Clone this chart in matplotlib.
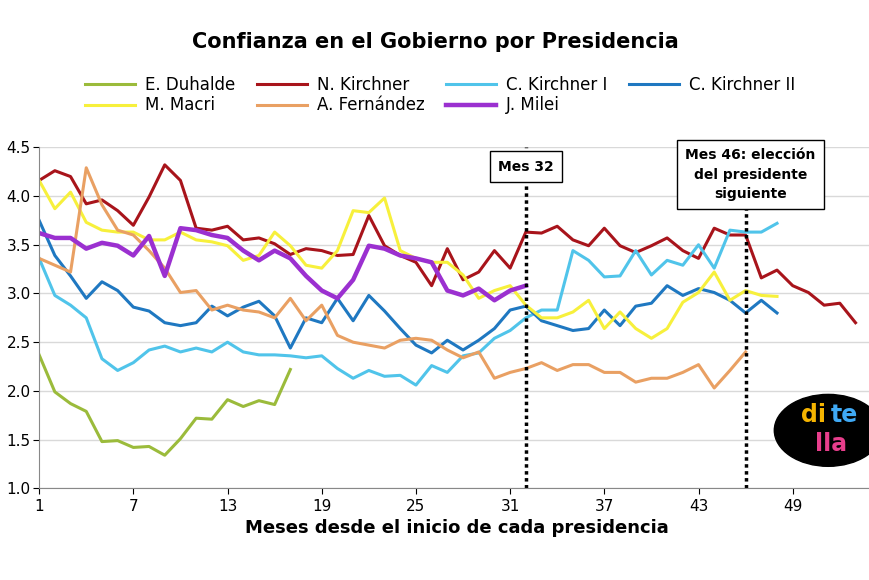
import matplotlib.pyplot as plt
from matplotlib.patches import Circle

duhalde = [1.37,0.99,0.87,0.79,0.48,0.49,0.42,0.43,0.34,0.51,0.72,0.71,0.91,0.84,0.90,0.86,1.22]
nk = [3.16,3.26,3.20,2.92,2.96,2.85,2.70,2.99,3.32,3.16,2.67,2.65,2.69,2.55,2.57,2.51,2.40,2.46,2.44,2.39,
      2.40,2.80,2.49,2.39,2.32,2.08,2.46,2.14,2.22,2.44,2.26,2.63,2.62,2.69,2.55,2.49,2.67,2.49,2.42,2.49,
      2.57,2.44,2.36,2.67,2.60,2.60,2.16,2.24,2.08,2.01,1.88,1.90,1.70]
ck1 = [2.36,1.98,1.88,1.75,1.33,1.21,1.29,1.42,1.46,1.40,1.44,1.40,1.50,1.40,1.37,1.37,1.36,1.34,1.36,1.23,
       1.13,1.21,1.15,1.16,1.06,1.26,1.19,1.36,1.39,1.54,1.62,1.75,1.83,1.83,2.44,2.34,2.17,2.18,2.44,2.19,
       2.34,2.29,2.50,2.26,2.65,2.63,2.63,2.72]
ck2 = [2.75,2.39,2.18,1.95,2.12,2.03,1.86,1.82,1.70,1.67,1.70,1.87,1.77,1.86,1.92,1.77,1.44,1.75,1.70,1.95,
       1.72,1.98,1.82,1.64,1.47,1.39,1.52,1.42,1.52,1.64,1.83,1.87,1.72,1.67,1.62,1.64,1.83,1.67,1.87,1.90,
       2.08,1.98,2.05,2.01,1.93,1.80,1.93,1.80]
macri = [3.16,2.87,3.04,2.73,2.65,2.63,2.63,2.55,2.55,2.63,2.55,2.53,2.49,2.34,2.39,2.63,2.49,2.29,2.26,2.44,
         2.85,2.83,2.98,2.44,2.36,2.32,2.32,2.19,1.95,2.03,2.08,1.88,1.75,1.75,1.81,1.93,1.64,1.81,1.64,1.54,
         1.64,1.91,2.01,2.22,1.93,2.03,1.98,1.97]
af = [2.36,2.29,2.22,3.29,2.91,2.65,2.60,2.44,2.26,2.01,2.03,1.83,1.88,1.83,1.81,1.75,1.95,1.72,1.88,1.57,
      1.50,1.47,1.44,1.52,1.54,1.52,1.42,1.34,1.40,1.13,1.19,1.23,1.29,1.21,1.27,1.27,1.19,1.19,1.09,1.13,
      1.13,1.19,1.27,1.03,1.21,1.40]
milei = [2.62,2.57,2.57,2.46,2.52,2.49,2.39,2.59,2.18,2.67,2.65,2.60,2.57,2.44,2.34,2.44,2.36,2.18,2.03,1.95,
         2.14,2.49,2.46,2.39,2.36,2.32,2.03,1.98,2.05,1.93,2.03,2.08]

series = [("E. Duhalde", duhalde, "#9bbb3b"), ("N. Kirchner", nk, "#a8141b"),
          ("C. Kirchner I", ck1, "#50c4ea"), ("C. Kirchner II", ck2, "#1f78c1"),
          ("M. Macri", macri, "#f7f03c"), ("A. Fernández", af, "#e9a063"),
          ("J. Milei", milei, "#9b30d0")]

fig = plt.figure(figsize=(8.7, 5.8), dpi=100)
ax = fig.add_axes([0.045, 0.158, 0.96, 0.588])
lines = {}
for name, vals, col in series:
    lw = 3.2 if name == "J. Milei" else 2.2
    lines[name], = ax.plot(range(1, len(vals) + 1), vals, color=col, lw=lw, label=name)

ax.set_xlim(1, 54.2)
ax.set_ylim(0, 3.5)
ax.set_xticks(range(1, 54, 6))
ax.set_yticks([i * 0.5 for i in range(8)])
ax.set_yticklabels([f"{i*0.5 + 1:.1f}" for i in range(8)])
ax.tick_params(labelsize=11, length=4)
ax.tick_params(axis="y", pad=2)
ax.grid(axis="y", color="#d9d9d9", lw=1)
ax.set_axisbelow(True)
for s in ["top", "right"]:
    ax.spines[s].set_visible(False)
ax.spines["left"].set_color("#888888")
ax.spines["bottom"].set_color("#888888")
ax.set_xlabel("Meses desde el inicio de cada presidencia", fontsize=13, fontweight="bold")

for m in [32, 46]:
    ax.axvline(m, color="black", ls=(0, (1, 1)), lw=2.5)
ax.text(32, 3.3, "Mes 32", ha="center", va="center", fontsize=10, fontweight="bold",
        bbox=dict(boxstyle="square,pad=0.6", fc="white", ec="black"))
ax.text(46.3, 3.22, "Mes 46: elección\ndel presidente\nsiguiente", ha="center", va="center",
        fontsize=10, fontweight="bold", linespacing=1.5,
        bbox=dict(boxstyle="square,pad=0.6", fc="white", ec="black"))

fig.suptitle("Confianza en el Gobierno por Presidencia", fontsize=15, fontweight="bold", y=0.945)
order = ["E. Duhalde", "M. Macri", "N. Kirchner", "A. Fernández", "C. Kirchner I", "J. Milei", "C. Kirchner II"]
fig.legend([lines[n] for n in order], order, loc="upper left", bbox_to_anchor=(0.08, 0.895), ncol=4,
           frameon=False, fontsize=12, handlelength=3.0, columnspacing=1.3, labelspacing=0.15,
           handletextpad=0.6)

# logo
fig.patches.append(Circle((0.952, 0.258), 0.062, transform=fig.transFigure, color="black"))
fig.text(0.935, 0.285, "di", color="#f5b400", fontsize=17, fontweight="bold", ha="center", va="center")
fig.text(0.97, 0.285, "te", color="#3fa9f5", fontsize=17, fontweight="bold", ha="center", va="center")
fig.text(0.955, 0.235, "lla", color="#e83e8c", fontsize=17, fontweight="bold", ha="center", va="center")

fig.savefig("out.png")
